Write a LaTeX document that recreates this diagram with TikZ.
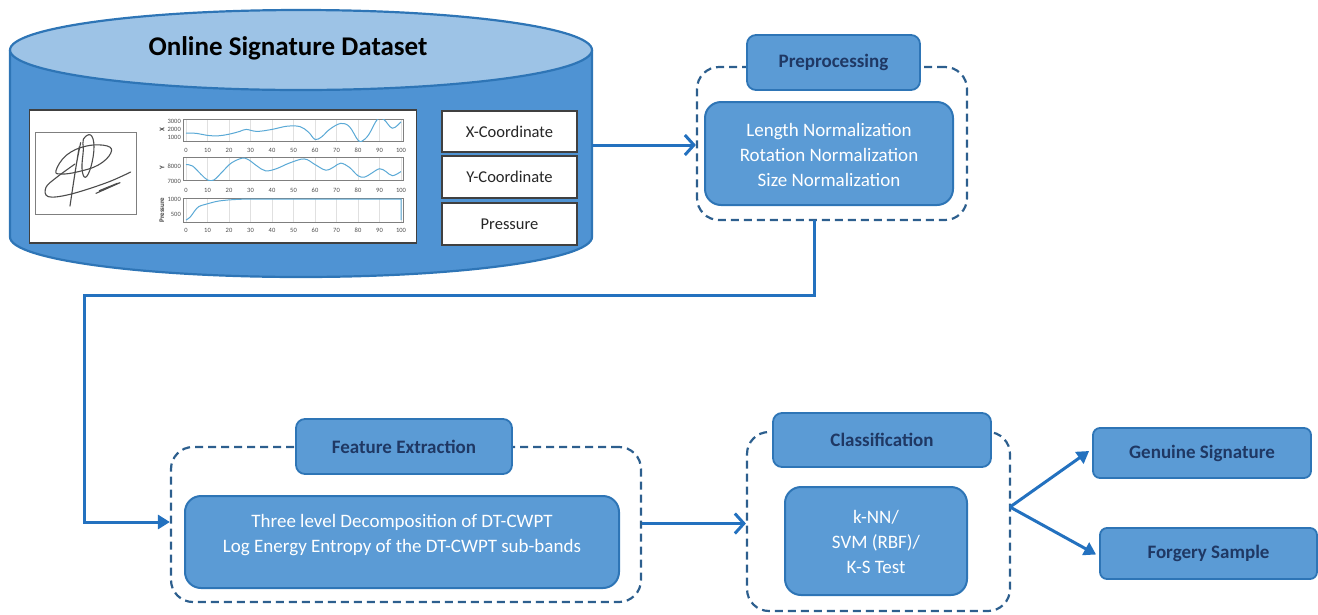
\documentclass[tikz,border=0pt]{standalone}
\usepackage{fontspec}
\setmainfont{Carlito}
\usetikzlibrary{arrows.meta}
\definecolor{boxfill}{HTML}{5B9BD5}
\definecolor{boxedge}{HTML}{2E75B6}
\definecolor{cylbody}{HTML}{4F93D3}
\definecolor{cyltop}{HTML}{9DC3E6}
\definecolor{navy}{HTML}{1F3864}
\definecolor{dashblue}{HTML}{2D5F8E}
\definecolor{flowblue}{HTML}{2371BF}
\definecolor{curve}{HTML}{5AA9D6}
\definecolor{framegray}{HTML}{7F7F7F}
\tikzset{
  labelbox/.style={draw=boxedge, line width=1.8pt, fill=boxfill, rounded corners=9pt,
    inner sep=0pt, font=\fontsize{19}{22}\selectfont\bfseries, text=navy},
  innerbox/.style={draw=boxedge, line width=2pt, fill=boxfill, rounded corners=16pt, inner sep=0pt},
  innertext/.style={align=center, text=white, font=\fontsize{19}{25}\selectfont, inner sep=0pt},
  groupbox/.style={draw=dashblue, line width=2.2pt, dash pattern=on 8pt off 5pt,
    rounded corners=22pt, inner sep=0pt},
  outbox/.style={draw=boxedge, line width=1.8pt, fill=boxfill, rounded corners=7pt,
    inner sep=0pt, font=\fontsize{19}{22}\selectfont\bfseries, text=navy},
  fieldbox/.style={draw=black!75, line width=1.4pt, fill=white, inner sep=0pt,
    font=\fontsize{16.5}{19}\selectfont, text=black!85},
  flow/.style={draw=flowblue, line width=3pt},
  openhead/.style={-{Straight Barb[length=9pt,width=20pt,line width=3pt]}},
  solidhead/.style={-{Triangle[length=12pt,width=14pt]}},
  ticklab/.style={font=\fontsize{6.5}{7}\selectfont, text=black!70, inner sep=0pt},
  axislab/.style={font=\fontsize{7}{8}\selectfont\bfseries, text=black!75, inner sep=0pt},
  plotframe/.style={draw=framegray, line width=0.8pt},
  gridline/.style={draw=black!12, line width=0.4pt},
  datacurve/.style={draw=curve, line width=1pt},
  pen/.style={draw=black!70, line width=1.1pt, line join=round, line cap=round}
}
\begin{document}
\begin{tikzpicture}[x=1pt, y=-1pt]
\useasboundingbox (0,0) rectangle (1318,614);

% ---------- dataset cylinder ----------
\fill[cylbody] (10,50) -- (10,237) arc[start angle=180, end angle=360, x radius=291pt, y radius=40pt]
  -- (592,50) -- cycle;
\draw[boxedge, line width=2.2pt] (10,50) -- (10,237) arc[start angle=180, end angle=360, x radius=291pt, y radius=40pt]
  -- (592,50);
\filldraw[fill=cyltop, draw=boxedge, line width=2.2pt] (301,50) ellipse[x radius=291pt, y radius=40pt];
\node[font=\fontsize{27}{31}\selectfont\bfseries, text=black, inner sep=0pt] (title) at (288,48) {Online Signature Dataset};
\coordinate (cylR) at (592,145);

% white panel with signature and signal plots
\node[draw=black!75, line width=1.4pt, fill=white, minimum width=387pt, minimum height=133pt, inner sep=0pt]
  (panel) at (223,176.5) {};
\draw[framegray, line width=0.7pt] (35,132) rectangle (136,214);

% handwritten signature
\begin{scope}[shift={(20,100)}, xscale=1/3, yscale=1/3]
  \draw[pen] plot[smooth cycle, tension=0.7] coordinates {(108,212) (140,165) (200,138) (262,138) (272,160) (235,195) (175,215) (125,222)};
  \draw[pen] plot[smooth, tension=0.6] coordinates {(182,128) (168,200) (150,318) (158,265) (172,175) (178,140)};
  \draw[pen] plot[smooth cycle, tension=0.7] coordinates {(190,118) (212,105) (222,140) (213,200) (196,232) (186,205) (190,150)};
  \draw[pen] plot[smooth, tension=0.6] coordinates {(332,216) (260,248) (150,283) (85,290) (78,262) (110,232) (165,192)};
  \draw[pen] plot[smooth, tension=0.4] coordinates {(228,280) (300,248) (238,272) (292,250)};
\end{scope}

% plot frames, grid and tick labels
\foreach \k in {0,...,10} {
  \draw[gridline] ({186+21.5*\k},119) -- ({186+21.5*\k},141);
  \draw[gridline] ({186+21.5*\k},157) -- ({186+21.5*\k},180);
  \draw[gridline] ({186+21.5*\k},198) -- ({186+21.5*\k},222);
  \pgfmathtruncatemacro\tv{10*\k}
  \node[ticklab] (ta\k) at ({186+21.5*\k},150) {\tv};
  \node[ticklab] (tb\k) at ({186+21.5*\k},190) {\tv};
  \node[ticklab] (tc\k) at ({186+21.5*\k},230) {\tv};
}
\draw[plotframe] (183,119) rectangle (403,141);
\draw[plotframe] (183,157) rectangle (403,180);
\draw[plotframe] (183,198) rectangle (403,222);
\node[ticklab, anchor=east] (ya1) at (181,121) {3000};
\node[ticklab, anchor=east] (ya2) at (181,129) {2000};
\node[ticklab, anchor=east] (ya3) at (181,137) {1000};
\node[ticklab, anchor=east] (yb1) at (181,166.5) {8000};
\node[ticklab, anchor=east] (yb2) at (181,181) {7000};
\node[ticklab, anchor=east] (yc1) at (181,199.5) {1000};
\node[ticklab, anchor=east] (yc2) at (181,214) {500};
\node[axislab, rotate=90] (xlab) at (162,130) {X};
\node[axislab, rotate=90] (ylab) at (162,168) {Y};
\node[axislab, rotate=90] (plab) at (162,210) {Pressure};

% signal curves
\begin{scope}
  \clip (183,119) rectangle (403,141);
  \begin{scope}[shift={(186,145)}, x=2.15pt, y=0.008pt]
    \draw[datacurve] plot[smooth, tension=0.6] coordinates {(0,1500) (5,1450) (10,1200) (15,1150) (20,1350) (25,1700)
      (28,1950) (33,1700) (40,1950) (47,2350) (53,2300) (57,1600) (60,700) (63,1000) (67,2000) (72,2700) (76,2300)
      (80,600) (82,500) (85,1300) (89,3200) (92,3200) (96,2100) (100,2900)};
  \end{scope}
\end{scope}
\begin{scope}
  \clip (183,157) rectangle (403,180);
  \begin{scope}[shift={(186,278)}, x=2.15pt, y=0.014pt]
    \draw[datacurve] plot[smooth, tension=0.6] coordinates {(0,8100) (3,8000) (7,7400) (10,7000) (13,7000) (17,7600)
      (21,8200) (26,8550) (29,8450) (33,8000) (37,7650) (42,7800) (48,8200) (55,8500) (60,8100) (65,7700) (69,7950)
      (72,8200) (76,7900) (80,7300) (83,7200) (86,7450) (90,7800) (93,7600) (96,7300) (100,7600)};
  \end{scope}
\end{scope}
\begin{scope}
  \clip (183,198) rectangle (403,222);
  \begin{scope}[shift={(186,229)}, x=2.15pt, y=0.03pt]
    \draw[datacurve] plot[smooth, tension=0.6] coordinates {(0,300) (2,400) (4,600) (6,750) (9,820) (12,880)
      (15,930) (20,970) (25,990) (30,1000)} -- (100,1000) -- (100,300);
  \end{scope}
\end{scope}

% signal fields
\node[fieldbox, minimum width=135pt, minimum height=41pt] (xc) at (509.5,131.5) {X-Coordinate};
\node[fieldbox, minimum width=135pt, minimum height=42pt] (yc) at (509.5,177) {Y-Coordinate};
\node[fieldbox, minimum width=135pt, minimum height=42pt] (pc) at (509.5,224) {Pressure};

% ---------- preprocessing ----------
\node[groupbox, minimum width=270pt, minimum height=153pt] (pregrp) at (832,143.5) {};
\node[labelbox, minimum width=173pt, minimum height=55pt] (prelab) at (833.5,62.5) {Preprocessing};
\node[innerbox, minimum width=248pt, minimum height=103pt] (prebox) at (829,153.5) {};
\node[innertext] (pretxt) at (829,155) {Length Normalization\\Rotation Normalization\\Size Normalization};

% ---------- feature extraction ----------
\node[groupbox, minimum width=470pt, minimum height=155pt] (feagrp) at (406,524.5) {};
\node[labelbox, minimum width=216pt, minimum height=55pt] (fealab) at (404,446.5) {Feature Extraction};
\node[innerbox, minimum width=434pt, minimum height=92pt] (feabox) at (402,542) {};
\node[innertext] (featxt) at (402,535.5) {Three level Decomposition of DT-CWPT\\Log Energy Entropy of the DT-CWPT sub-bands};

% ---------- classification ----------
\node[groupbox, minimum width=263pt, minimum height=179pt] (clsgrp) at (878.5,521.5) {};
\node[labelbox, minimum width=218pt, minimum height=54pt] (clslab) at (882,440) {Classification};
\node[innerbox, minimum width=182pt, minimum height=108pt] (clsbox) at (876,541) {};
\node[innertext] (clstxt) at (876,542) {k-NN/\\SVM (RBF)/\\K-S Test};

% ---------- decisions ----------
\node[outbox, minimum width=218pt, minimum height=50pt] (gen) at (1202,453) {Genuine Signature};
\node[outbox, minimum width=217pt, minimum height=51pt] (forg) at (1208.5,553.5) {Forgery Sample};

% ---------- connectors ----------
\draw[flow, openhead] (cylR) -- (cylR -| pregrp.west);
\coordinate (preout) at (814,220);
\coordinate (bend) at (84,295);
\draw[flow, solidhead, line join=miter] (preout) |- (bend) |- ([yshift=2.5pt]feagrp.west);
\draw[flow, openhead] ([yshift=1pt]feagrp.east) -- ([yshift=1pt]feagrp.east -| clsgrp.west);
\coordinate (split) at (1010,507);
\draw[flow, solidhead] (split) -- ([xshift=-3pt, yshift=2pt]gen.west);
\draw[flow, solidhead] (split) -- ([xshift=-3pt, yshift=-1pt]forg.west);
\end{tikzpicture}
\end{document}
